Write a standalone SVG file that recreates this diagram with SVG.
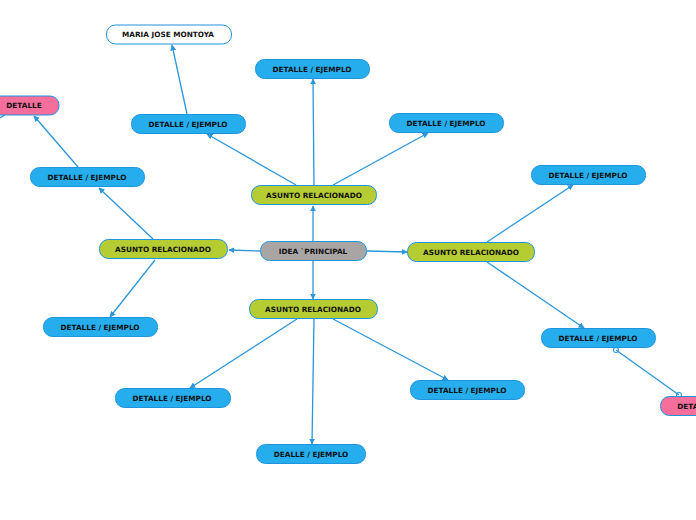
<svg xmlns="http://www.w3.org/2000/svg" width="696" height="520" viewBox="0 0 696 520">
<defs>
<marker id="ar" viewBox="0 0 10 10" refX="9" refY="5" markerWidth="6" markerHeight="6" orient="auto" markerUnits="userSpaceOnUse"><path d="M0,0 L10,5 L0,10 z" fill="#2a96dc"/></marker>
<marker id="ci" viewBox="0 0 10 10" refX="5" refY="5" markerWidth="7" markerHeight="7" markerUnits="userSpaceOnUse"><circle cx="5" cy="5" r="3.5" fill="none" stroke="#2a96dc" stroke-width="1.5"/></marker>
<style>
.c{stroke:#2a96dc;stroke-width:1.3;fill:none}
.b{fill:#25adee;stroke:#1e94dc;stroke-width:1}
.g{fill:#b5cc33;stroke:#1e94dc;stroke-width:1}
.p{fill:#f56e9c;stroke:#1e94dc;stroke-width:1}
.w{fill:#ffffff;stroke:#1e94dc;stroke-width:1}
.i{fill:#aaa5a5;stroke:#1e94dc;stroke-width:1}
text{font-family:"DejaVu Sans",Verdana,sans-serif;font-weight:bold;font-size:7.3px;fill:#111;text-anchor:middle}
</style>
</defs>
<rect width="696" height="520" fill="#fff"/>
<g id="connectors">
<line class="c" x1="313" y1="241" x2="313" y2="206" marker-end="url(#ar)"/>
<line class="c" x1="260" y1="251" x2="229" y2="250" marker-end="url(#ar)"/>
<line class="c" x1="367" y1="251" x2="407" y2="252" marker-end="url(#ar)"/>
<line class="c" x1="313" y1="261" x2="313" y2="299" marker-end="url(#ar)"/>
<line class="c" x1="296" y1="185" x2="207" y2="134" marker-end="url(#ar)"/>
<line class="c" x1="314" y1="185" x2="313" y2="79" marker-end="url(#ar)"/>
<line class="c" x1="333" y1="185" x2="428" y2="133" marker-end="url(#ar)"/>
<line class="c" x1="187" y1="114" x2="172" y2="45" marker-end="url(#ar)"/>
<line class="c" x1="153" y1="239" x2="99" y2="188" marker-end="url(#ar)"/>
<line class="c" x1="78" y1="167" x2="34" y2="116" marker-end="url(#ar)"/>
<line class="c" x1="5" y1="115" x2="-2" y2="119"/>
<line class="c" x1="155" y1="260" x2="110" y2="317" marker-end="url(#ar)"/>
<line class="c" x1="487" y1="242" x2="573" y2="185" marker-end="url(#ar)"/>
<line class="c" x1="487" y1="262" x2="584" y2="328" marker-end="url(#ar)"/>
<line class="c" x1="616" y1="350" x2="679" y2="395" marker-start="url(#ci)" marker-end="url(#ci)"/>
<line class="c" x1="297" y1="319" x2="190" y2="388" marker-end="url(#ar)"/>
<line class="c" x1="314" y1="319" x2="312" y2="444" marker-end="url(#ar)"/>
<line class="c" x1="333" y1="319" x2="448" y2="380" marker-end="url(#ar)"/>
</g>
<g id="n-maria"><rect class="w" x="106.5" y="25" width="125" height="19" rx="9"/><text x="168" y="37">MARIA JOSE MONTOYA</text></g>
<g id="n-d1"><rect class="b" x="255.5" y="59.5" width="114" height="19" rx="9"/><text x="312" y="72">DETALLE / EJEMPLO</text></g>
<g id="n-pink1"><rect class="p" x="-20" y="96" width="79" height="19" rx="9"/><text x="24" y="108">DETALLE</text></g>
<g id="n-d2"><rect class="b" x="131.5" y="114.5" width="114" height="19" rx="9"/><text x="188" y="127">DETALLE / EJEMPLO</text></g>
<g id="n-d3"><rect class="b" x="389.5" y="113.5" width="114" height="19" rx="9"/><text x="446" y="126">DETALLE / EJEMPLO</text></g>
<g id="n-d4"><rect class="b" x="30.5" y="167.5" width="114" height="19" rx="9"/><text x="87" y="180">DETALLE / EJEMPLO</text></g>
<g id="n-d5"><rect class="b" x="531.5" y="165.5" width="114" height="19" rx="9"/><text x="588" y="178">DETALLE / EJEMPLO</text></g>
<g id="n-a1"><rect class="g" x="251.5" y="185.5" width="125" height="19" rx="9"/><text x="314" y="198">ASUNTO RELACIONADO</text></g>
<g id="n-a2"><rect class="g" x="99.5" y="239.5" width="128" height="19" rx="9"/><text x="163" y="252">ASUNTO RELACIONADO</text></g>
<g id="n-idea"><rect class="i" x="260.5" y="241.5" width="106" height="19" rx="9"/><text x="313" y="254">IDEA `PRINCIPAL</text></g>
<g id="n-a3"><rect class="g" x="407.5" y="242.5" width="127" height="19" rx="9"/><text x="471" y="255">ASUNTO RELACIONADO</text></g>
<g id="n-a4"><rect class="g" x="249.5" y="299.5" width="128" height="19" rx="9"/><text x="313" y="312">ASUNTO RELACIONADO</text></g>
<g id="n-d6"><rect class="b" x="43.5" y="317.5" width="114" height="19" rx="9"/><text x="100" y="330">DETALLE / EJEMPLO</text></g>
<g id="n-d7"><rect class="b" x="541.5" y="328.5" width="114" height="19" rx="9"/><text x="598" y="341">DETALLE / EJEMPLO</text></g>
<g id="n-d8"><rect class="b" x="115.5" y="388.5" width="115" height="19" rx="9"/><text x="172" y="401">DETALLE / EJEMPLO</text></g>
<g id="n-d9"><rect class="b" x="410.5" y="380.5" width="114" height="19" rx="9"/><text x="467" y="393">DETALLE / EJEMPLO</text></g>
<g id="n-d10"><rect class="b" x="256.5" y="444.5" width="109" height="19" rx="9"/><text x="311" y="457">DEALLE / EJEMPLO</text></g>
<g id="n-pink2"><rect class="p" x="660.5" y="396.5" width="79" height="19" rx="9"/><text x="695" y="409">DETALLE</text></g>
</svg>
